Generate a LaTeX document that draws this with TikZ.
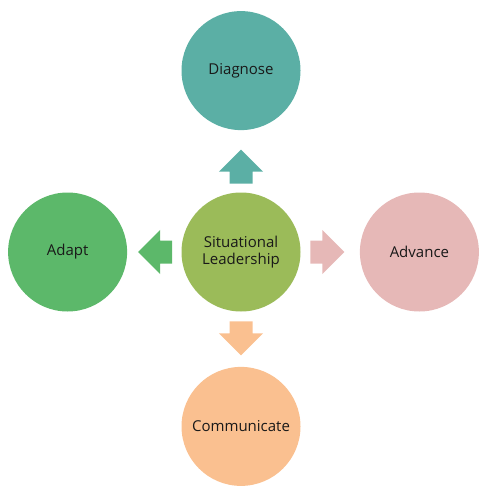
\documentclass[tikz,border=0pt]{standalone}
\usepackage{fontspec}
\setmainfont{Open Sans}
\usetikzlibrary{shapes.arrows,positioning}

\definecolor{diagcol}{HTML}{5BAFA5}
\definecolor{adaptcol}{HTML}{5CB86A}
\definecolor{leadcol}{HTML}{9BBB59}
\definecolor{advcol}{HTML}{E6B8B7}
\definecolor{commcol}{HTML}{FAC090}

\begin{document}
\begin{tikzpicture}[
    x=1pt,
    y=-1pt,
    stage/.style={
        circle,
        minimum size=119pt,
        inner sep=0pt,
        align=center,
        text=black!90,
        font=\fontsize{15}{17.5}\selectfont
      },
    blockarrow/.style={
        single arrow,
        anchor=tail,
        minimum height=34pt,
        single arrow head extend=10.6pt,
        inner xsep=0pt,
        inner ysep=11.3pt
      }
    ]

    \useasboundingbox (0,0) rectangle (486,495);

    \node[stage,fill=leadcol] (lead) at (241,252) {Situational\\Leadership};
    \node[stage,fill=diagcol,above=62pt of lead] (diagnose) {Diagnose};
    \node[stage,fill=adaptcol,left=54pt of lead] (adapt) {Adapt};
    \node[stage,fill=advcol,right=59pt of lead] (advance) {Advance};
    \node[stage,fill=commcol,below=55pt of lead] (communicate) {Communicate};

    \node[blockarrow,fill=diagcol,rotate=90] (toDiag) at ([yshift=8.5pt]lead.north) {};
    \node[blockarrow,fill=adaptcol,rotate=180] (toAdapt) at ([xshift=-9pt]lead.west) {};
    \node[blockarrow,fill=advcol] (toAdv) at ([xshift=9.5pt]lead.east) {};
    \node[blockarrow,fill=commcol,rotate=270] (toComm) at ([yshift=-9.5pt]lead.south) {};

  \end{tikzpicture}
\end{document}
